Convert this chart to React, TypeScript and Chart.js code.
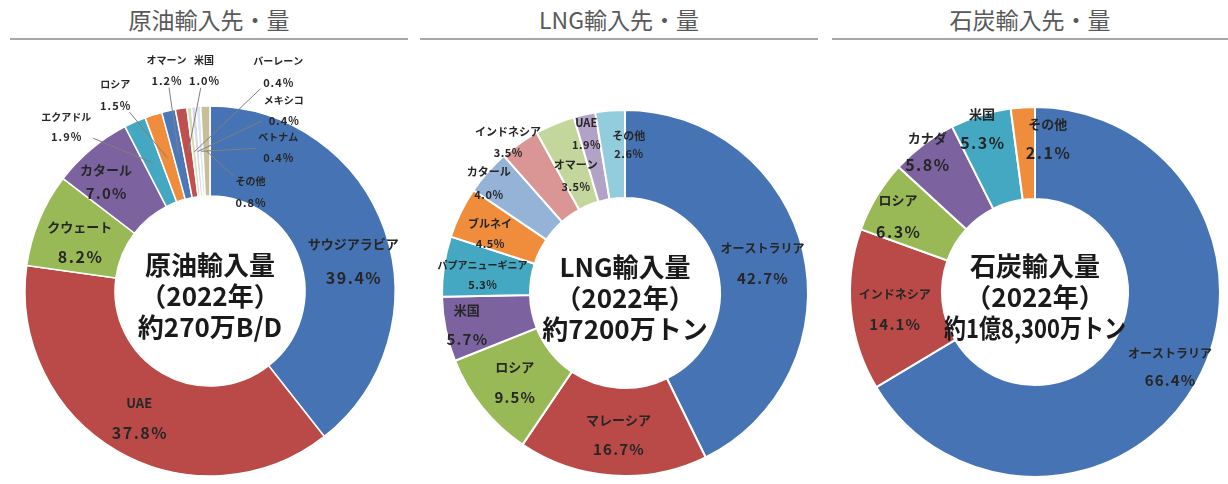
import React, { useEffect, useRef } from "react";
import { Chart, registerables } from "chart.js";

Chart.register(...registerables);

// ---------------- data ----------------
const chartTitles = ["原油輸入先・量", "LNG輸入先・量", "石炭輸入先・量"];

const crudeNames = ["サウジアラビア", "UAE", "クウェート", "カタール", "エクアドル", "ロシア", "オマーン", "米国", "バーレーン", "メキシコ", "ベトナム", "その他"];
const crudeValues = [39.4, 37.8, 8.2, 7.0, 1.9, 1.5, 1.2, 1.0, 0.4, 0.4, 0.4, 0.8];
const crudeCenter = ["原油輸入量", "（2022年）", "約270万B/D"];

const lngNames = ["オーストラリア", "マレーシア", "ロシア", "米国", "パプアニューギニア", "ブルネイ", "カタール", "インドネシア", "オマーン", "UAE", "その他"];
const lngValues = [42.7, 16.7, 9.5, 5.7, 5.3, 4.5, 4.0, 3.5, 3.5, 1.9, 2.6];
const lngCenter = ["LNG輸入量", "（2022年）", "約7200万トン"];

const coalNames = ["オーストラリア", "インドネシア", "ロシア", "カナダ", "米国", "その他"];
const coalValues = [66.4, 14.1, 6.3, 5.8, 5.3, 2.1];
const coalCenter = ["石炭輸入量", "（2022年）", "約1億8,300万トン"];

// ---------------- styles ----------------
const FONT = '"Noto Sans CJK JP", "Noto Sans", sans-serif';
const BLUE = "#4573b3";
const RED = "#b94a48";
const GREEN = "#98b955";
const PURPLE = "#7d62a0";
const TEAL = "#45a8c2";
const ORANGE = "#f08d3d";

const crudeColors = [BLUE, RED, GREEN, PURPLE, TEAL, ORANGE, "#4a78b8", "#c0504d", "#d3e0b5", "#ddd6e8", "#d4e9f1", "#c8bf98"];
const lngColors = [BLUE, RED, GREEN, PURPLE, TEAL, ORANGE, "#95b3d7", "#d99694", "#c3d69b", "#b3a2c7", "#93cddd"];
const coalColors = [BLUE, RED, GREEN, PURPLE, TEAL, ORANGE];

// label offset from slice centre [dx, dy]
const crudeOffsets = [[11, 16], [-1, 6], [-1, 5], [-14, -2], [-87, -36], [-52, -63], [-12, -84], [16, -82], [84, -80], [86, -41], [77, -4], [44, 41]];
// [name font px, pct font px, line gap, pct letter spacing]
const crudeFonts = [[13, 16, 34, 1.5], [13, 16, 30, 1.5], [13, 16, 29, 1.5], [13, 15, 24, 1.2], [10, 11, 20, 1], [10, 11, 22, 1], [10, 11, 21, 1], [10, 11, 21, 1], [10, 11, 21, 1], [10, 11, 20, 1], [10, 11, 21, 1], [10, 11, 21, 1]];
const crudeLeaders = [false, false, false, false, true, true, true, true, true, true, true, true];

const lngOffsets = [[2, 2], [3, 3], [-2, 2], [-22, 4], [-5, 2], [-10, 2], [-32, -18], [-37, -37], [4, 11], [-8, -24], [15, -10]];
const lngFonts = [[12, 15, 30, 1.2], [13, 15, 30, 1.2], [13, 15, 30, 1.2], [13, 15, 29, 1.2], [10, 11, 20, 0.5], [11, 11, 20, 0.5], [11, 11, 23, 0.5], [11, 11, 21, 0.5], [11, 11, 22, 0.5], [11, 11, 22, 0.5], [11, 11, 18, 0.5]];
const lngLeaders = lngValues.map(() => false);

const coalOffsets = [[14, 6], [-2, 4], [-18, -4], [-24, -30], [-12, -31], [22, -15]];
const coalFonts = [[12, 15, 27, 1.2], [12, 15, 30, 1.2], [13, 16, 32, 1.5], [13, 16, 27, 1.5], [13, 16, 29, 1.5], [13, 16, 29, 1.5]];
const coalLeaders = coalValues.map(() => false);

type LabelCfg = {
  offsets: number[][];
  fonts: number[][];
  leaders: boolean[];
  center: string[];
  centerMaxWidth?: number;
};

function makeLabelPlugin(cfg: LabelCfg) {
  return {
    id: "sliceLabels",
    afterDatasetsDraw(chart: any) {
      const ctx: any = chart.ctx;
      const meta = chart.getDatasetMeta(0);
      const ds = chart.data.datasets[0];
      const names = chart.data.labels as string[];
      ctx.save();
      ctx.textAlign = "center";
      ctx.textBaseline = "middle";
      meta.data.forEach((arc: any, i: number) => {
        const c = arc.tooltipPosition(false);
        const [dx, dy] = cfg.offsets[i];
        const [ns, ps, gap, ls] = cfg.fonts[i];
        const lx = c.x + dx;
        const ly = c.y + dy;
        const name = names[i];
        const pct = Number(ds.data[i]).toFixed(1) + "%";
        if (cfg.leaders[i]) {
          ctx.letterSpacing = "0px";
          ctx.font = `bold ${ns}px ${FONT}`;
          const w1 = ctx.measureText(name).width;
          ctx.font = `bold ${ps}px ${FONT}`;
          const w2 = ctx.measureText(pct).width + 4 * ls;
          const hw = Math.max(w1, w2) / 2 + 2;
          const hh = (gap + Math.max(ns, ps)) / 2 + 1;
          const vx = c.x - lx;
          const vy = c.y - ly;
          const t = Math.min(hw / Math.max(Math.abs(vx), 1e-6), hh / Math.max(Math.abs(vy), 1e-6));
          if (t < 1) {
            ctx.strokeStyle = "#7f7f7f";
            ctx.lineWidth = 1;
            ctx.beginPath();
            ctx.moveTo(lx + vx * t, ly + vy * t);
            ctx.lineTo(c.x, c.y);
            ctx.stroke();
          }
        }
        ctx.fillStyle = "#262626";
        ctx.letterSpacing = "0px";
        ctx.font = `bold ${ns}px ${FONT}`;
        ctx.fillText(name, lx, ly - gap / 2);
        ctx.letterSpacing = `${ls}px`;
        ctx.font = `bold ${ps}px ${FONT}`;
        ctx.fillText(pct, lx + ls / 2, ly + gap / 2);
      });
      ctx.letterSpacing = "0px";
      // centre text
      const a0 = meta.data[0];
      const cx = a0.x;
      const cy = a0.y;
      const shifts = [-26, 5, 36];
      ctx.fillStyle = "#1a1a1a";
      ctx.font = `bold 26px ${FONT}`;
      cfg.center.forEach((line, k) => {
        if (k === cfg.center.length - 1 && cfg.centerMaxWidth) {
          ctx.fillText(line, cx, cy + shifts[k], cfg.centerMaxWidth);
        } else {
          ctx.fillText(line, cx, cy + shifts[k]);
        }
      });
      ctx.restore();
    },
  };
}

type DonutProps = {
  left: number;
  width: number;
  names: string[];
  values: number[];
  colors: string[];
  radius: number;
  cutout: string;
  padding: { left: number; right: number; top: number; bottom: number };
  borderWidth: number;
  cfg: LabelCfg;
};

function Donut(p: DonutProps) {
  const ref = useRef<HTMLCanvasElement | null>(null);
  useEffect(() => {
    if (!ref.current) return;
    const chart = new Chart(ref.current, {
      type: "doughnut",
      data: {
        labels: p.names,
        datasets: [
          {
            data: p.values,
            backgroundColor: p.colors,
            borderColor: "#ffffff",
            borderWidth: p.borderWidth,
          },
        ],
      },
      options: {
        responsive: false,
        animation: false,
        radius: p.radius,
        cutout: p.cutout,
        layout: { padding: p.padding },
        plugins: {
          legend: { display: false },
          title: { display: false },
          tooltip: { enabled: false },
        },
      } as any,
      plugins: [makeLabelPlugin(p.cfg)],
    });
    return () => chart.destroy();
  }, []);
  return (
    <canvas
      ref={ref}
      width={p.width}
      height={484}
      style={{ position: "absolute", left: p.left, top: 0 }}
    />
  );
}

const titleBoxes = [
  { left: 10, right: 408 },
  { left: 420, right: 818 },
  { left: 832, right: 1228 },
];

export default function App() {
  return (
    <div
      style={{
        position: "absolute",
        left: 0,
        top: 0,
        width: 1228,
        height: 484,
        background: "#ffffff",
        overflow: "hidden",
      }}
    >
      {chartTitles.map((t, i) => (
        <div
          key={t}
          style={{
            position: "absolute",
            left: titleBoxes[i].left,
            width: titleBoxes[i].right - titleBoxes[i].left,
            top: 3,
            height: 35,
            lineHeight: "32px",
            fontSize: 23,
            fontFamily: FONT,
            color: "#595959",
            textAlign: "center",
            borderBottom: "2px solid #a8a8a8",
          }}
        >
          {t}
        </div>
      ))}
      <Donut
        left={0}
        width={410}
        names={crudeNames}
        values={crudeValues}
        colors={crudeColors}
        radius={185}
        cutout="51.35%"
        padding={{ left: 10, right: 0, top: 98, bottom: 0 }}
        borderWidth={1.5}
        cfg={{ offsets: crudeOffsets, fonts: crudeFonts, leaders: crudeLeaders, center: crudeCenter }}
      />
      <Donut
        left={410}
        width={410}
        names={lngNames}
        values={lngValues}
        colors={lngColors}
        radius={183}
        cutout="51.9%"
        padding={{ left: 20, right: 0, top: 102, bottom: 0 }}
        borderWidth={2}
        cfg={{ offsets: lngOffsets, fonts: lngFonts, leaders: lngLeaders, center: lngCenter }}
      />
      <Donut
        left={820}
        width={408}
        names={coalNames}
        values={coalValues}
        colors={coalColors}
        radius={185}
        cutout="50.3%"
        padding={{ left: 22, right: 0, top: 100, bottom: 0 }}
        borderWidth={2}
        cfg={{ offsets: coalOffsets, fonts: coalFonts, leaders: coalLeaders, center: coalCenter, centerMaxWidth: 182 }}
      />
    </div>
  );
}
